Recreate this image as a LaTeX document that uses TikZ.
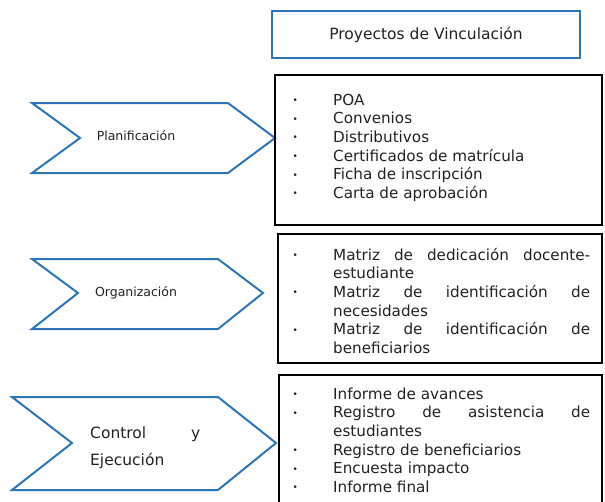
\documentclass[tikz,border=0pt]{standalone}
\usepackage{fontspec}
\setmainfont{DejaVu Sans}
\usetikzlibrary{positioning}

\definecolor{stageblue}{RGB}{46,117,182}
\definecolor{inkgray}{RGB}{34,34,34}

% list set-up and one bullet item of a list box
\newcommand{\listsetup}{\tolerance=10000\hbadness=10000\hyphenpenalty=10000\relax}
\newcommand{\bul}{\par\leftskip=40.5pt\noindent
  \llap{\makebox[40.5pt][l]{\raisebox{1.5pt}{\fontsize{9}{9}\selectfont\textbullet}}}\strut}

\begin{document}
\begin{tikzpicture}[x=1pt, y=-1pt,
    stage/.style={draw=stageblue, line width=2pt, line join=miter, fill=white},
    stagelabel/.style={font=\fontsize{12.5}{15}\selectfont, text=inkgray},
    titlebox/.style={draw=stageblue, line width=1.6pt, minimum width=308pt,
        minimum height=47pt, font=\fontsize{15.5}{18}\selectfont, text=inkgray},
    listbox/.style={draw=black, line width=2.4pt},
    listtext/.style={anchor=north west, inner sep=0pt, text width=297.5pt,
        align=justify, text=inkgray, font=\fontsize{15.2}{18.6}\selectfont}
]
    \useasboundingbox (0,0) rectangle (605,501);

    % Title
    \node[titlebox] (title) at (426,34.5) {Proyectos de Vinculación};

    % Stages
    \draw[stage] (32,103) -- (228,103) -- (275,138) -- (228,173) -- (32,173) -- (80,138) -- cycle;
    \node[stagelabel] (plan) at (136,136) {Planificación};

    \draw[stage] (32,259) -- (218,259) -- (263,293) -- (218,329) -- (32,329) -- (78,293) -- cycle;
    \node[stagelabel] (org) at (136,293) {Organización};

    \draw[stage] (12,397) -- (218,397) -- (276,443) -- (218,490) -- (12,490) -- (72,443) -- cycle;
    \node[anchor=north west, inner sep=0pt, text width=110pt, align=justify, text=inkgray,
        font=\fontsize{15.5}{27}\selectfont] (ctrl) at (90,419.6)
        {\strut Control y\linebreak Ejecución};

    % List boxes
    \draw[listbox] (275,75) rectangle (602,225);
    \node[listtext] (docs) at (292.5,86.4) {\listsetup
        \bul POA
        \bul Convenios
        \bul Distributivos
        \bul Certificados de matrícula
        \bul Ficha de inscripción
        \bul Carta de aprobación\par};

    \draw[listbox] (278,234) rectangle (602,363);
    \node[listtext] (matrices) at (292.5,241.4) {\listsetup
        \bul Matriz de dedicación docente-\linebreak estudiante
        \bul Matriz de identificación de\linebreak necesidades
        \bul Matriz de identificación de\linebreak beneficiarios\par};

    \draw[listbox] (279,375) rectangle (602,508);
    \node[listtext] (reports) at (292.5,380.4) {\listsetup
        \bul Informe de avances
        \bul Registro de asistencia de\linebreak estudiantes
        \bul Registro de beneficiarios
        \bul Encuesta impacto
        \bul Informe final\par};
\end{tikzpicture}
\end{document}
